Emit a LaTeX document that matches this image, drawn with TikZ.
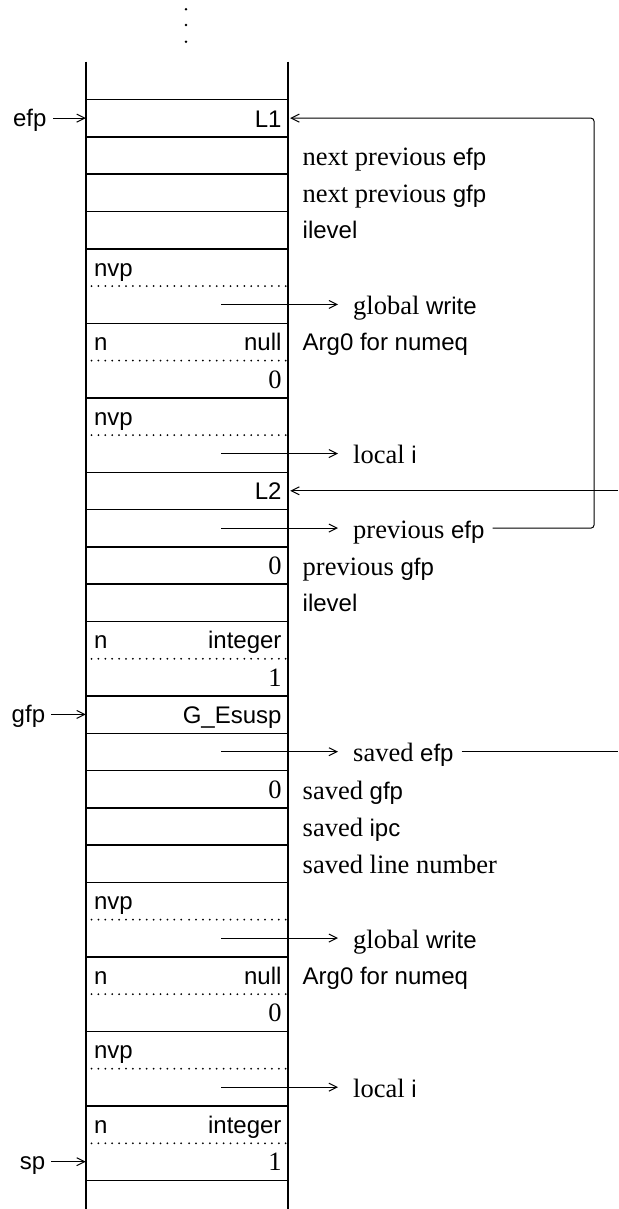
\documentclass[tikz,border=0pt]{standalone}
\usepackage{fontspec}
\setmainfont{Liberation Serif}
\setsansfont{Liberation Sans}
\usetikzlibrary{arrows.meta}
\newcommand\sfx[1]{{\sffamily\fontsize{24}{28}\selectfont #1}}
\newcommand\rowy[1]{99.5+(#1-0.5)*37.27}
\begin{document}
\begin{tikzpicture}[x=1pt,y=-1pt,
  box/.style={line width=1.5pt},
  dotline/.style={line width=2pt, dash pattern=on 0pt off 6.9pt, line cap=round},
  ptr/.style={line width=1pt, -{Straight Barb[length=8pt,width=8pt,line width=1pt]}},
  plain/.style={line width=1pt},
  cell/.style={minimum width=202pt, minimum height=37.27pt, inner sep=0pt, draw=none},
  stxt/.style={inner sep=0pt, font=\sffamily\fontsize{24}{28}\selectfont},
  rtxt/.style={inner sep=0pt, font=\rmfamily\fontsize{26.5}{30}\selectfont},
  lab/.style={inner sep=0pt, anchor=base west, font=\rmfamily\fontsize{26.5}{30}\selectfont},
]
\useasboundingbox (0,0) rectangle (618,1209);

% continuation dots
\foreach \yy in {9.3,25,41.7}
  \fill (186,\yy) circle (1.4pt);

% cells
\foreach \i in {1,...,29}
  \node[cell] (c\i) at (187,{\rowy{\i}}) {};

% stack walls
\coordinate (tl) at (86,61.7);
\coordinate (tr) at (288,61.7);
\coordinate (bl) at (86,1209);
\coordinate (br) at (288,1209);
\draw[box] (tl) -- (bl);
\draw[box] (tr) -- (br);

% solid separators
\draw[box] (c1.north west) -- (c1.north east);
\foreach \k in {1,2,3,4,6,8,10,11,12,13,14,16,17,18,19,20,21,23,25,27,29}
  \draw[box] (c\k.south west) -- (c\k.south east);

% dotted separators
\foreach \k in {5,7,9,15,22,24,26,28} {
  \draw[dotline] ([xshift=5.7pt]c\k.south west) -- ([xshift=95.7pt]c\k.south west);
  \draw[dotline] ([xshift=103.3pt]c\k.south west) -- ([xshift=-2pt]c\k.south east);
}

% texts inside cells (sans, left)
\foreach \k/\t in {5/nvp,7/n,9/nvp,15/n,22/nvp,24/n,26/nvp,28/n}
  \node[stxt, anchor=base west] (cl\k) at ([xshift=8pt,yshift=-9pt]c\k.west) {\t};
% texts inside cells (sans, right)
\foreach \k/\t in {1/L1,7/null,11/L2,15/integer,17/G\_Esusp,24/null,28/integer}
  \node[stxt, anchor=base east] (cr\k) at ([xshift=-6.5pt,yshift=-9pt]c\k.east) {\t};
% digits (serif, right)
\foreach \k/\t in {8/0,13/0,16/1,19/0,25/0,29/1}
  \node[rtxt, anchor=base east] (cd\k) at ([xshift=-6.5pt,yshift=-9pt]c\k.east) {\t};

% labels next to the stack
\node[lab] (a2)  at (302.5,{\rowy{2}+10})  {next previous \sfx{efp}};
\node[lab] (a3)  at (302.5,{\rowy{3}+10})  {next previous \sfx{gfp}};
\node[lab] (a4)  at (302.5,{\rowy{4}+9})   {\sfx{ilevel}};
\node[lab] (a7)  at (302.5,{\rowy{7}+9})   {\sfx{Arg0 for numeq}};
\node[lab] (a13) at (302.5,{\rowy{13}+10}) {previous \sfx{gfp}};
\node[lab] (a14) at (302.5,{\rowy{14}+9})  {\sfx{ilevel}};
\node[lab] (a19) at (302.5,{\rowy{19}+10}) {saved \sfx{gfp}};
\node[lab] (a20) at (302.5,{\rowy{20}+10}) {saved \sfx{ipc}};
\node[lab] (a21) at (302.5,{\rowy{21}+10}) {saved line number};
\node[lab] (a24) at (302.5,{\rowy{24}+9})  {\sfx{Arg0 for numeq}};

% pointed-to labels
\node[lab] (b6)  at (353,{\rowy{6}+10})  {global \sfx{write}};
\node[lab] (b10) at (353,{\rowy{10}+10}) {local \sfx{i}};
\node[lab] (b12) at (353,{\rowy{12}+10}) {previous \sfx{efp}};
\node[lab] (b18) at (353,{\rowy{18}+10}) {saved \sfx{efp}};
\node[lab] (b23) at (353,{\rowy{23}+10}) {global \sfx{write}};
\node[lab] (b27) at (353,{\rowy{27}+10}) {local \sfx{i}};

\foreach \k in {6,10,12,18,23,27}
  \draw[ptr] ([xshift=34pt]c\k.center) -- ([xshift=-15pt]c\k.center -| b\k.west);

% frame pointers on the left
\node[stxt, anchor=base east] (efp) at (46.7,{\rowy{1}+8})  {efp};
\node[stxt, anchor=base east] (gfp) at (45.3,{\rowy{17}+8}) {gfp};
\node[stxt, anchor=base east] (sp)  at (45.3,{\rowy{29}+8}) {sp};
\draw[ptr] ([xshift=6.5pt]c1.center -| efp.east) -- (c1.west);
\draw[ptr] ([xshift=6pt]c17.center -| gfp.east) -- (c17.west);
\draw[ptr] ([xshift=6pt]c29.center -| sp.east) -- (c29.west);

% long connectors on the right
\coordinate (rail) at (594,0);
\coordinate (edge) at (618,0);
\draw[ptr, rounded corners=3pt] ([xshift=8pt]c12.center -| b12.east) -- (rail |- c12.center) -- (rail |- c1.center) -- ([xshift=2pt]c1.east);
\draw[ptr] (edge |- c11.center) -- ([xshift=2pt]c11.east);
\draw[plain] ([xshift=8pt]c18.center -| b18.east) -- (edge |- c18.center);
\end{tikzpicture}
\end{document}
